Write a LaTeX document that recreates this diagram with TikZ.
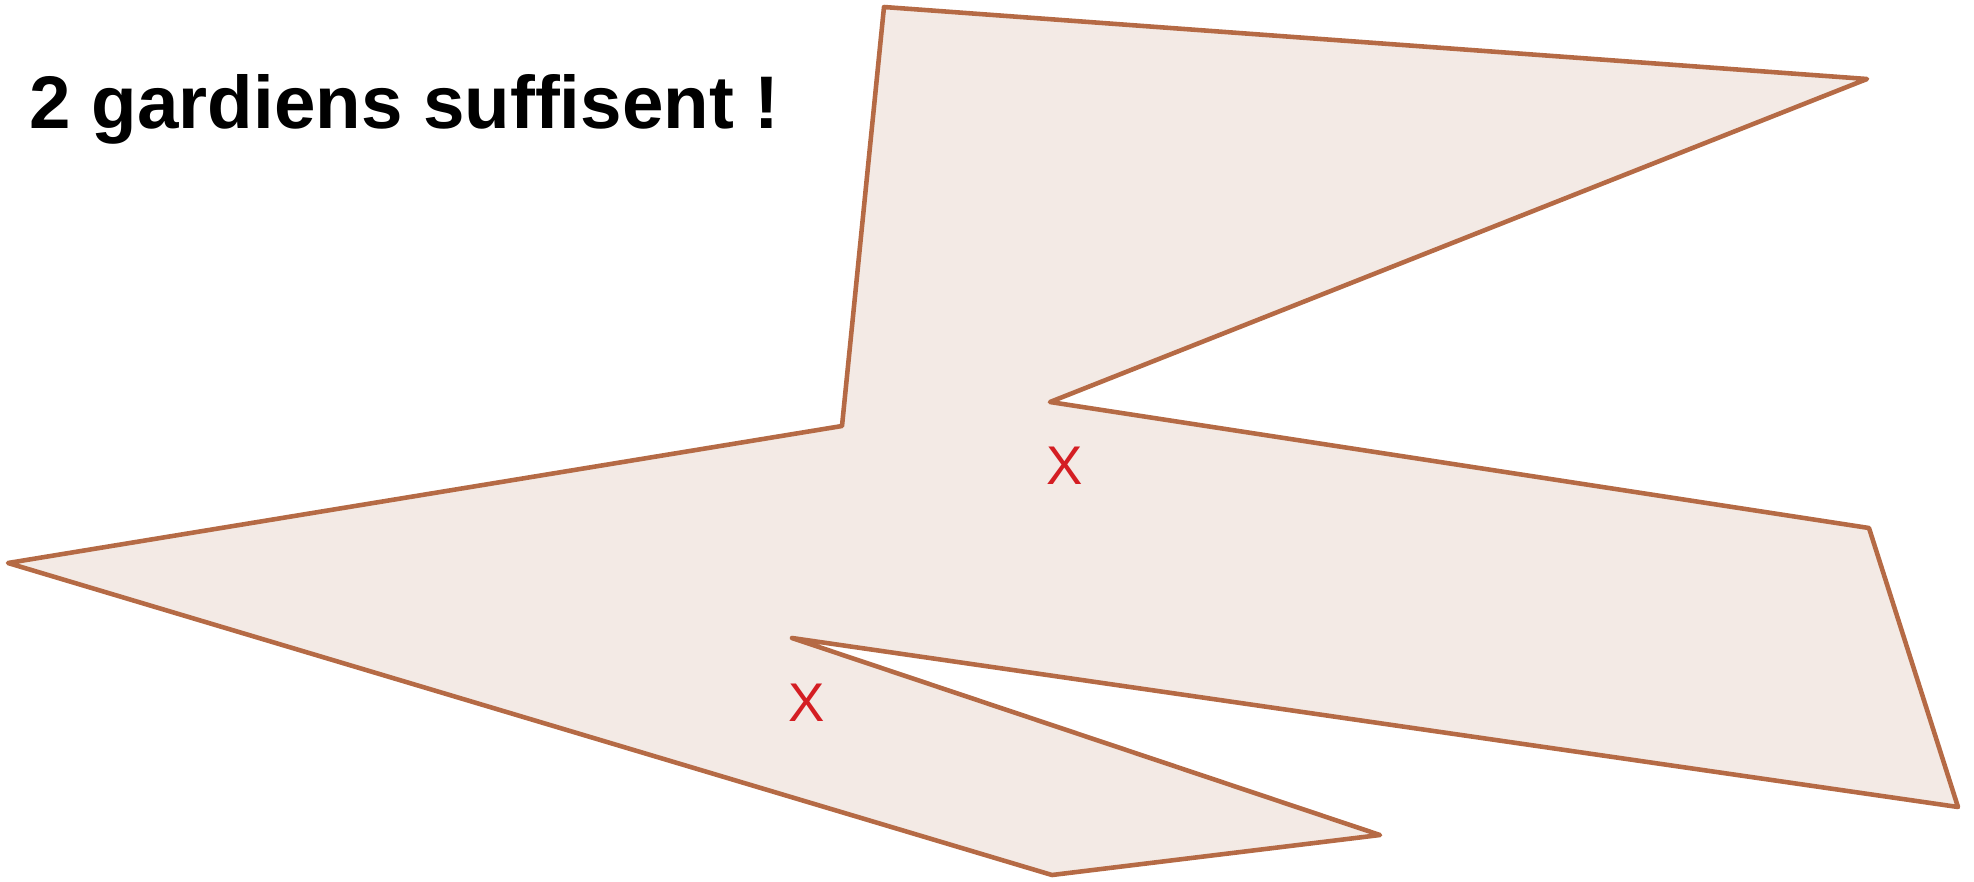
\documentclass[tikz,border=0pt]{standalone}
\usepackage{fontspec}
\setmainfont{Liberation Sans}
\usetikzlibrary{positioning}
\definecolor{galbord}{HTML}{B56A45}
\definecolor{galfond}{HTML}{F3EAE5}
\definecolor{galrouge}{HTML}{D41E23}
\tikzset{
  salle/.style={draw=galbord, fill=galfond, line width=1.3pt, line join=round},
  gardien/.style={text=galrouge, font=\fontsize{15.5}{18}\selectfont, inner sep=0pt},
  titre/.style={font=\fontsize{21.2}{25}\selectfont\bfseries, inner sep=0pt, anchor=base west},
}
\begin{document}
\begin{tikzpicture}[x=0.01cm,y=-0.01cm]
  \useasboundingbox (0,0) rectangle (1974,881);
  % sommets de la galerie
  \coordinate (a) at (884,7);
  \coordinate (b) at (1867,79);
  \coordinate (c) at (1050,402);
  \coordinate (d) at (1869,528);
  \coordinate (e) at (1958,807);
  \coordinate (f) at (792,638);
  \coordinate (g) at (1380,835);
  \coordinate (h) at (1052,875);
  \coordinate (i) at (8,563);
  \coordinate (j) at (842,426);
  \draw[salle] (a) -- (b) -- (c) -- (d) -- (e) -- (f) -- (g) -- (h) -- (i) -- (j) -- cycle;
  % les deux gardiens
  \node[gardien] (g1) at (1065,466) {X};
  \node[gardien] (g2) at (807,703) {X};
  \node[titre] (t) at (29,128) {2 gardiens suffisent !};
\end{tikzpicture}
\end{document}
